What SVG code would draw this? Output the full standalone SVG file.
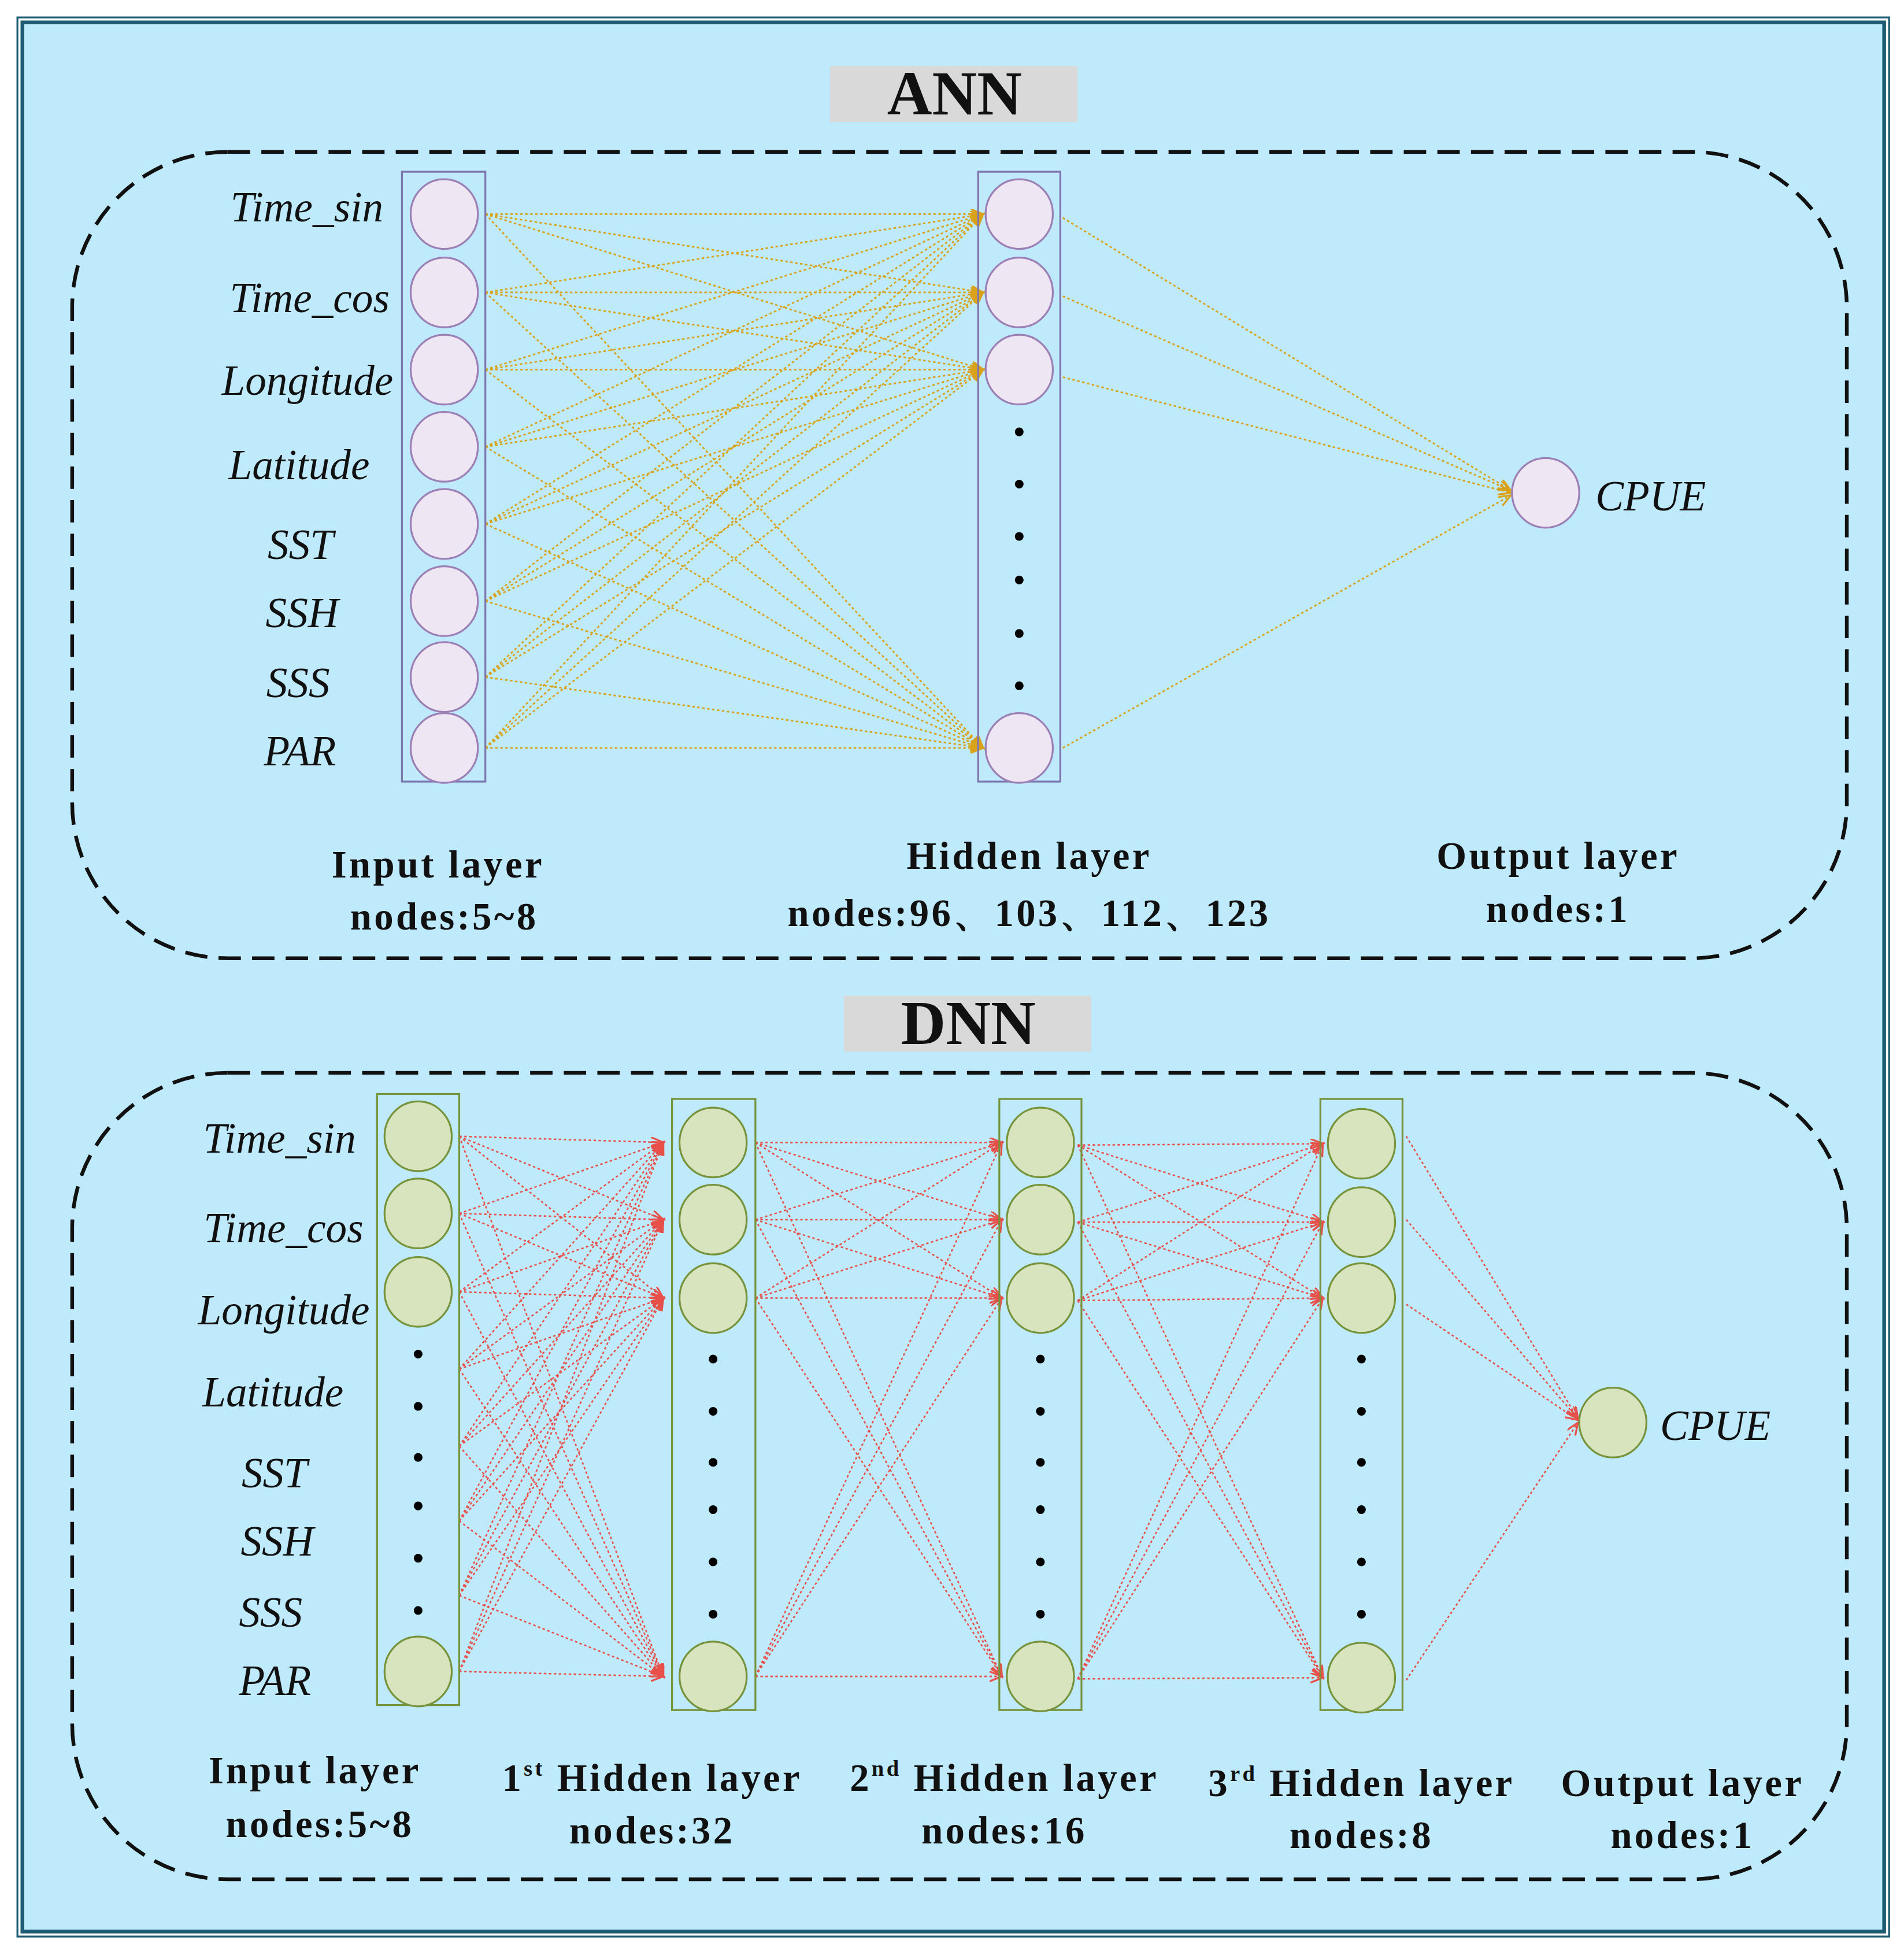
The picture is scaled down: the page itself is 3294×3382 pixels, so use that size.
<svg xmlns="http://www.w3.org/2000/svg" width="3294" height="3382" viewBox="0 0 3294 3382">
<defs>
<style>
.lbl{font-family:"Liberation Serif",serif;font-style:italic;font-size:34px;fill:#111;text-anchor:end}
.bl{font-family:"Liberation Serif",serif;font-weight:bold;font-size:31px;letter-spacing:2px;fill:#111;text-anchor:middle}
.ttl{font-family:"Liberation Serif",serif;font-weight:bold;font-size:50px;fill:#111;text-anchor:middle}
.dash{fill:none;stroke:#111;stroke-width:3;stroke-dasharray:18 9}
.pc{fill:#efe6f3;stroke:#9b7fb5;stroke-width:1.5}
.gc{fill:#d7e4bd;stroke:#77933c;stroke-width:1.5}
.pr{fill:none;stroke:#7f76b0;stroke-width:1.5}
.gr{fill:none;stroke:#77933c;stroke-width:1.5}
.dot{fill:#000}
.oc line{stroke:#d9a21b;stroke-width:1.3;stroke-dasharray:2 2;marker-end:url(#ao)}
.rc line{stroke:#e8504a;stroke-width:1.2;stroke-dasharray:2 2;marker-end:url(#ar)}
</style>
<marker id="ao" markerWidth="12" markerHeight="10" refX="10" refY="4" orient="auto" markerUnits="userSpaceOnUse"><path d="M0,0 L10,4 L0,8" fill="none" stroke="#d9a21b" stroke-width="1.5"/></marker>
<marker id="ar" markerWidth="12" markerHeight="10" refX="10" refY="4" orient="auto" markerUnits="userSpaceOnUse"><path d="M0,0 L10,4 L0,8" fill="none" stroke="#e8504a" stroke-width="1.5"/></marker>
</defs>
<g transform="scale(2.153)">
<rect x="9" y="9" width="1512" height="1552" fill="#fff"/>
<rect x="18" y="18" width="1496" height="1534" fill="#bfeafc" stroke="#1d5c73" stroke-width="3"/>
<rect x="14" y="14" width="1504" height="1542" fill="none" stroke="#1d5c73" stroke-width="1.5"/>

<g id="ann-title"><rect x="667" y="53" width="199" height="45" fill="#d9d9d9"/><text class="ttl" x="767" y="92">ANN</text></g>
<rect class="dash" x="58" y="122" width="1426" height="648" rx="125" ry="125"/>

<g id="ann-connectors" class="oc">
<line x1="390" y1="172" x2="790" y2="172"/><line x1="390" y1="172" x2="790" y2="235"/><line x1="390" y1="172" x2="790" y2="297"/><line x1="390" y1="172" x2="790" y2="601"/>
<line x1="390" y1="235" x2="790" y2="172"/><line x1="390" y1="235" x2="790" y2="235"/><line x1="390" y1="235" x2="790" y2="297"/><line x1="390" y1="235" x2="790" y2="601"/>
<line x1="390" y1="297" x2="790" y2="172"/><line x1="390" y1="297" x2="790" y2="235"/><line x1="390" y1="297" x2="790" y2="297"/><line x1="390" y1="297" x2="790" y2="601"/>
<line x1="390" y1="359" x2="790" y2="172"/><line x1="390" y1="359" x2="790" y2="235"/><line x1="390" y1="359" x2="790" y2="297"/><line x1="390" y1="359" x2="790" y2="601"/>
<line x1="390" y1="421" x2="790" y2="172"/><line x1="390" y1="421" x2="790" y2="235"/><line x1="390" y1="421" x2="790" y2="297"/><line x1="390" y1="421" x2="790" y2="601"/>
<line x1="390" y1="483" x2="790" y2="172"/><line x1="390" y1="483" x2="790" y2="235"/><line x1="390" y1="483" x2="790" y2="297"/><line x1="390" y1="483" x2="790" y2="601"/>
<line x1="390" y1="544" x2="790" y2="172"/><line x1="390" y1="544" x2="790" y2="235"/><line x1="390" y1="544" x2="790" y2="297"/><line x1="390" y1="544" x2="790" y2="601"/>
<line x1="390" y1="601" x2="790" y2="172"/><line x1="390" y1="601" x2="790" y2="235"/><line x1="390" y1="601" x2="790" y2="297"/><line x1="390" y1="601" x2="790" y2="601"/>
<line x1="854" y1="175" x2="1214" y2="394"/><line x1="854" y1="238" x2="1214" y2="394"/><line x1="854" y1="303" x2="1214" y2="396"/><line x1="854" y1="601" x2="1214" y2="398"/>
</g>

<g id="ann-input">
<rect class="pr" x="323" y="138" width="67" height="490"/>
<ellipse class="pc" cx="357" cy="172" rx="27" ry="28"/><ellipse class="pc" cx="357" cy="235" rx="27" ry="28"/><ellipse class="pc" cx="357" cy="297" rx="27" ry="28"/><ellipse class="pc" cx="357" cy="359" rx="27" ry="28"/>
<ellipse class="pc" cx="357" cy="421" rx="27" ry="28"/><ellipse class="pc" cx="357" cy="483" rx="27" ry="28"/><ellipse class="pc" cx="357" cy="544" rx="27" ry="28"/><ellipse class="pc" cx="357" cy="601" rx="27" ry="28"/>
<text class="lbl" x="308" y="178">Time_sin</text><text class="lbl" x="313" y="251">Time_cos</text><text class="lbl" x="316" y="317">Longitude</text><text class="lbl" x="297" y="385">Latitude</text>
<text class="lbl" x="268" y="449">SST</text><text class="lbl" x="272" y="504">SSH</text><text class="lbl" x="265" y="560">SSS</text><text class="lbl" x="270" y="615">PAR</text>
</g>
<g id="ann-hidden">
<rect class="pr" x="786" y="138" width="66" height="490"/>
<ellipse class="pc" cx="819" cy="172" rx="27" ry="28"/><ellipse class="pc" cx="819" cy="235" rx="27" ry="28"/><ellipse class="pc" cx="819" cy="297" rx="27" ry="28"/><ellipse class="pc" cx="819" cy="601" rx="27" ry="28"/>
<circle class="dot" cx="819" cy="347" r="3.5"/><circle class="dot" cx="819" cy="389" r="3.5"/><circle class="dot" cx="819" cy="431" r="3.5"/><circle class="dot" cx="819" cy="466" r="3.5"/><circle class="dot" cx="819" cy="509" r="3.5"/><circle class="dot" cx="819" cy="551" r="3.5"/>
</g>
<g id="ann-output">
<ellipse class="pc" cx="1242" cy="396" rx="27" ry="28"/>
<text class="lbl" x="1282" y="410" style="text-anchor:start">CPUE</text>
</g>
<g id="ann-labels">
<text class="bl" x="352" y="705">Input layer</text><text class="bl" x="357" y="747">nodes:5~8</text>
<text class="bl" x="827" y="698">Hidden layer</text><text class="bl" x="827" y="744">nodes:96、103、112、123</text>
<text class="bl" x="1252" y="698">Output layer</text><text class="bl" x="1252" y="741">nodes:1</text>
</g>

<g id="dnn-title"><rect x="678" y="800" width="199" height="45" fill="#d9d9d9"/><text class="ttl" x="778" y="839">DNN</text></g>
<rect class="dash" x="58" y="862" width="1426" height="648" rx="125" ry="125"/>

<g id="dnn-connectors" class="rc">
<line x1="369" y1="913" x2="533" y2="918"/><line x1="369" y1="913" x2="533" y2="980"/><line x1="369" y1="913" x2="533" y2="1043"/><line x1="369" y1="913" x2="533" y2="1347"/>
<line x1="369" y1="975" x2="533" y2="918"/><line x1="369" y1="975" x2="533" y2="980"/><line x1="369" y1="975" x2="533" y2="1043"/><line x1="369" y1="975" x2="533" y2="1347"/>
<line x1="369" y1="1038" x2="533" y2="918"/><line x1="369" y1="1038" x2="533" y2="980"/><line x1="369" y1="1038" x2="533" y2="1043"/><line x1="369" y1="1038" x2="533" y2="1347"/>
<line x1="369" y1="1100" x2="533" y2="918"/><line x1="369" y1="1100" x2="533" y2="980"/><line x1="369" y1="1100" x2="533" y2="1043"/><line x1="369" y1="1100" x2="533" y2="1347"/>
<line x1="369" y1="1162" x2="533" y2="918"/><line x1="369" y1="1162" x2="533" y2="980"/><line x1="369" y1="1162" x2="533" y2="1043"/><line x1="369" y1="1162" x2="533" y2="1347"/>
<line x1="369" y1="1222" x2="533" y2="918"/><line x1="369" y1="1222" x2="533" y2="980"/><line x1="369" y1="1222" x2="533" y2="1043"/><line x1="369" y1="1222" x2="533" y2="1347"/>
<line x1="369" y1="1282" x2="533" y2="918"/><line x1="369" y1="1282" x2="533" y2="980"/><line x1="369" y1="1282" x2="533" y2="1043"/><line x1="369" y1="1282" x2="533" y2="1347"/>
<line x1="369" y1="1343" x2="533" y2="918"/><line x1="369" y1="1343" x2="533" y2="980"/><line x1="369" y1="1343" x2="533" y2="1043"/><line x1="369" y1="1343" x2="533" y2="1347"/>
<line x1="607" y1="918" x2="805" y2="918"/><line x1="607" y1="918" x2="805" y2="980"/><line x1="607" y1="918" x2="805" y2="1043"/><line x1="607" y1="918" x2="805" y2="1347"/>
<line x1="607" y1="980" x2="805" y2="918"/><line x1="607" y1="980" x2="805" y2="980"/><line x1="607" y1="980" x2="805" y2="1043"/><line x1="607" y1="980" x2="805" y2="1347"/>
<line x1="607" y1="1043" x2="805" y2="918"/><line x1="607" y1="1043" x2="805" y2="980"/><line x1="607" y1="1043" x2="805" y2="1043"/><line x1="607" y1="1043" x2="805" y2="1347"/>
<line x1="607" y1="1347" x2="805" y2="918"/><line x1="607" y1="1347" x2="805" y2="980"/><line x1="607" y1="1347" x2="805" y2="1043"/><line x1="607" y1="1347" x2="805" y2="1347"/>
<line x1="866" y1="920" x2="1063" y2="919"/><line x1="866" y1="920" x2="1063" y2="982"/><line x1="866" y1="920" x2="1063" y2="1043"/><line x1="866" y1="920" x2="1063" y2="1348"/>
<line x1="866" y1="982" x2="1063" y2="919"/><line x1="866" y1="982" x2="1063" y2="982"/><line x1="866" y1="982" x2="1063" y2="1043"/><line x1="866" y1="982" x2="1063" y2="1348"/>
<line x1="866" y1="1045" x2="1063" y2="919"/><line x1="866" y1="1045" x2="1063" y2="982"/><line x1="866" y1="1045" x2="1063" y2="1043"/><line x1="866" y1="1045" x2="1063" y2="1348"/>
<line x1="866" y1="1349" x2="1063" y2="919"/><line x1="866" y1="1349" x2="1063" y2="982"/><line x1="866" y1="1349" x2="1063" y2="1043"/><line x1="866" y1="1349" x2="1063" y2="1348"/>
<line x1="1130" y1="913" x2="1268" y2="1140"/><line x1="1130" y1="980" x2="1268" y2="1140"/><line x1="1130" y1="1048" x2="1268" y2="1141"/><line x1="1130" y1="1350" x2="1268" y2="1143"/>
</g>

<g id="dnn-input">
<rect class="gr" x="303" y="879" width="66" height="491"/>
<ellipse class="gc" cx="336" cy="913" rx="27" ry="28"/><ellipse class="gc" cx="336" cy="975" rx="27" ry="28"/><ellipse class="gc" cx="336" cy="1038" rx="27" ry="28"/><ellipse class="gc" cx="336" cy="1343" rx="27" ry="28"/>
<circle class="dot" cx="336" cy="1088" r="3.5"/><circle class="dot" cx="336" cy="1130" r="3.5"/><circle class="dot" cx="336" cy="1171" r="3.5"/><circle class="dot" cx="336" cy="1210" r="3.5"/><circle class="dot" cx="336" cy="1252" r="3.5"/><circle class="dot" cx="336" cy="1294" r="3.5"/>
<text class="lbl" x="286" y="926">Time_sin</text><text class="lbl" x="292" y="998">Time_cos</text><text class="lbl" x="297" y="1064">Longitude</text><text class="lbl" x="276" y="1130">Latitude</text>
<text class="lbl" x="247" y="1195">SST</text><text class="lbl" x="252" y="1250">SSH</text><text class="lbl" x="243" y="1307">SSS</text><text class="lbl" x="250" y="1362">PAR</text>
</g>
<g id="dnn-hidden1">
<rect class="gr" x="540" y="883" width="67" height="491"/>
<ellipse class="gc" cx="573" cy="918" rx="27" ry="28"/><ellipse class="gc" cx="573" cy="980" rx="27" ry="28"/><ellipse class="gc" cx="573" cy="1043" rx="27" ry="28"/><ellipse class="gc" cx="573" cy="1347" rx="27" ry="28"/>
<circle class="dot" cx="573" cy="1092" r="3.5"/><circle class="dot" cx="573" cy="1134" r="3.5"/><circle class="dot" cx="573" cy="1175" r="3.5"/><circle class="dot" cx="573" cy="1213" r="3.5"/><circle class="dot" cx="573" cy="1255" r="3.5"/><circle class="dot" cx="573" cy="1297" r="3.5"/>
</g>
<g id="dnn-hidden2">
<rect class="gr" x="803" y="883" width="66" height="491"/>
<ellipse class="gc" cx="836" cy="918" rx="27" ry="28"/><ellipse class="gc" cx="836" cy="980" rx="27" ry="28"/><ellipse class="gc" cx="836" cy="1043" rx="27" ry="28"/><ellipse class="gc" cx="836" cy="1347" rx="27" ry="28"/>
<circle class="dot" cx="836" cy="1092" r="3.5"/><circle class="dot" cx="836" cy="1134" r="3.5"/><circle class="dot" cx="836" cy="1175" r="3.5"/><circle class="dot" cx="836" cy="1213" r="3.5"/><circle class="dot" cx="836" cy="1255" r="3.5"/><circle class="dot" cx="836" cy="1297" r="3.5"/>
</g>
<g id="dnn-hidden3">
<rect class="gr" x="1061" y="883" width="66" height="491"/>
<ellipse class="gc" cx="1094" cy="919" rx="27" ry="28"/><ellipse class="gc" cx="1094" cy="982" rx="27" ry="28"/><ellipse class="gc" cx="1094" cy="1043" rx="27" ry="28"/><ellipse class="gc" cx="1094" cy="1348" rx="27" ry="28"/>
<circle class="dot" cx="1094" cy="1092" r="3.5"/><circle class="dot" cx="1094" cy="1134" r="3.5"/><circle class="dot" cx="1094" cy="1175" r="3.5"/><circle class="dot" cx="1094" cy="1213" r="3.5"/><circle class="dot" cx="1094" cy="1255" r="3.5"/><circle class="dot" cx="1094" cy="1297" r="3.5"/>
</g>
<g id="dnn-output">
<ellipse class="gc" cx="1296" cy="1143" rx="27" ry="28"/>
<text class="lbl" x="1334" y="1157" style="text-anchor:start">CPUE</text>
</g>
<g id="dnn-labels">
<text class="bl" x="253" y="1433">Input layer</text><text class="bl" x="257" y="1476">nodes:5~8</text>
<text class="bl" x="524" y="1439">1<tspan dy="-12" font-size="18">st</tspan><tspan dy="12"> Hidden layer</tspan></text><text class="bl" x="524" y="1481">nodes:32</text>
<text class="bl" x="807" y="1439">2<tspan dy="-12" font-size="18">nd</tspan><tspan dy="12"> Hidden layer</tspan></text><text class="bl" x="807" y="1481">nodes:16</text>
<text class="bl" x="1094" y="1443">3<tspan dy="-12" font-size="18">rd</tspan><tspan dy="12"> Hidden layer</tspan></text><text class="bl" x="1094" y="1485">nodes:8</text>
<text class="bl" x="1352" y="1443">Output layer</text><text class="bl" x="1352" y="1485">nodes:1</text>
</g>
</g>
</svg>
